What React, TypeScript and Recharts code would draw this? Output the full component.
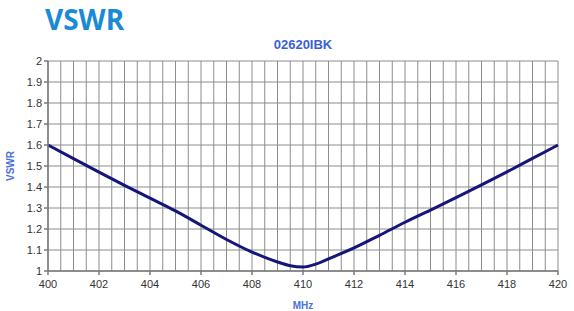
import { CartesianGrid, Line, LineChart, XAxis, YAxis } from 'recharts'

const mhz = [400, 401, 402, 403, 404, 405, 406, 407, 408, 409, 409.5, 410, 410.5, 411, 412, 413, 414, 415, 416, 417, 418, 419, 420]
const vswr = [1.6, 1.535, 1.471, 1.408, 1.347, 1.286, 1.218, 1.15, 1.09, 1.043, 1.025, 1.019, 1.033, 1.058, 1.11, 1.17, 1.232, 1.29, 1.349, 1.41, 1.472, 1.536, 1.6]

const xTicks = [400, 402, 404, 406, 408, 410, 412, 414, 416, 418, 420]
const xGridTicks = Array.from({ length: 41 }, (_, i) => 400 + i * 0.5)
const yTicks = [1, 1.1, 1.2, 1.3, 1.4, 1.5, 1.6, 1.7, 1.8, 1.9, 2]

const data = mhz.map((f, i) => ({ f, v: vswr[i] }))

const tickStyle = { fontSize: 11, fill: '#333', fontFamily: 'Liberation Sans, Arial, sans-serif' }

export default function App() {
  return (
    <div style={{ position: 'absolute', left: 0, top: 0, width: 574, height: 311, background: '#fff' }}>
      <div
        style={{
          position: 'absolute',
          left: 45,
          top: 0,
          fontFamily: '"Open Sans", sans-serif',
          fontWeight: 700,
          fontSize: 28,
          lineHeight: 'normal',
          color: '#1a8ad6',
        }}
      >
        VSWR
      </div>
      <div
        style={{
          position: 'absolute',
          left: 48,
          width: 510,
          top: 37,
          textAlign: 'center',
          fontFamily: 'Liberation Sans, Arial, sans-serif',
          fontWeight: 700,
          fontSize: 13,
          lineHeight: '16px',
          color: '#3a5fd6',
        }}
      >
        02620IBK
      </div>
      <LineChart width={574} height={311} data={data} margin={{ top: 61, right: 16, bottom: 0, left: 0 }}>
        <XAxis xAxisId="grid" dataKey="f" type="number" domain={[400, 420]} ticks={xGridTicks} interval={0} hide />
        <CartesianGrid xAxisId="grid" stroke="#8c8c8c" strokeWidth={1} />
        <XAxis
          dataKey="f"
          type="number"
          domain={[400, 420]}
          ticks={xTicks}
          interval={0}
          height={40}
          tick={tickStyle}
          tickSize={4}
          tickMargin={5}
          stroke="#7a7a7a"
          strokeWidth={1.5}
          label={{
            value: 'MHz',
            position: 'insideBottom',
            offset: 2,
            style: { fontSize: 10, fontWeight: 700, fill: '#4a6fd8', fontFamily: 'Liberation Sans, Arial, sans-serif' },
          }}
        />
        <YAxis
          domain={[1, 2]}
          ticks={yTicks}
          interval={0}
          width={48}
          tick={tickStyle}
          tickSize={4}
          tickMargin={2}
          stroke="#7a7a7a"
          strokeWidth={1.5}
          tickFormatter={(v: number) => String(+v.toFixed(1))}
          label={{
            value: 'VSWR',
            angle: -90,
            position: 'insideLeft',
            offset: 10,
            style: { fontSize: 10, fontWeight: 700, fill: '#4a6fd8', fontFamily: 'Liberation Sans, Arial, sans-serif', textAnchor: 'middle' },
          }}
        />
        <Line
          type="monotone"
          dataKey="v"
          stroke="#16167a"
          strokeWidth={3}
          dot={false}
          isAnimationActive={false}
        />
      </LineChart>
    </div>
  )
}
